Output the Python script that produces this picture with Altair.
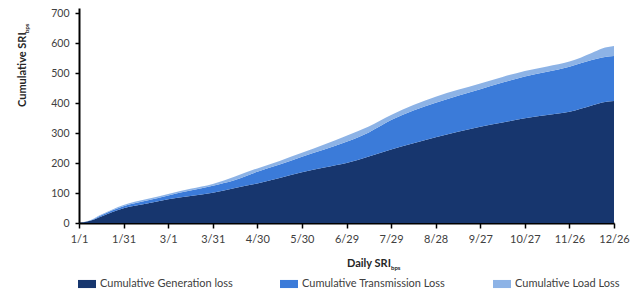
import json
from datetime import date

import altair as alt
import pandas as pd

# ---------------- data ----------------
DATES = ["1/1", "1/9", "1/16", "1/31", "2/15", "3/1", "3/16", "3/31", "4/15",
         "4/30", "5/15", "5/30", "6/14", "6/29", "7/14", "7/29", "8/13", "8/28",
         "9/12", "9/27", "10/12", "10/27", "11/11", "11/26", "12/11", "12/18", "12/26"]
GENERATION = [0, 8, 22, 49, 64, 79, 90, 101, 117, 132, 150, 169, 185, 200, 222,
              245, 266, 286, 304, 321, 335, 349, 360, 371, 392, 402, 407]
TRANSMISSION = [0, 1, 4, 7, 10, 13, 18, 23, 26, 39, 45, 52, 60, 71, 80, 98, 109,
                115, 120, 125, 133, 139, 144, 150, 151, 150, 150]
LOAD = [0, 1, 2, 4, 5, 5, 6, 6, 12, 11, 12, 13, 17, 20, 20, 17, 18, 20, 20, 19,
        19, 19, 18, 17, 24, 30, 33]

SERIES = ["Cumulative Generation loss", "Cumulative Transmission Loss", "Cumulative Load Loss"]
COLORS = ["#17366e", "#3b7bd9", "#8db3e6"]

TICK_LABELS = ["1/1", "1/31", "3/1", "3/31", "4/30", "5/30", "6/29", "7/29",
               "8/28", "9/27", "10/27", "11/26", "12/26"]
Y_TICKS = [0, 100, 200, 300, 400, 500, 600, 700]

Y_TITLE = "Cumulative SRI"
X_TITLE = "Daily SRI"
SUBSCRIPT = "bps"

YEAR = 2016
FONT = "Lato"
TEXT_COLOR = "#404040"
TITLE_COLOR = "#262626"


def day_index(md):
    m, d = (int(v) for v in md.split("/"))
    return (date(YEAR, m, d) - date(YEAR, 1, 1)).days


rows = []
for i, md in enumerate(DATES):
    for k, (name, vals) in enumerate(zip(SERIES, [GENERATION, TRANSMISSION, LOAD])):
        rows.append({"day": day_index(md), "series": name, "value": vals[i], "order": k})
df = pd.DataFrame(rows)

tick_days = [day_index(t) for t in TICK_LABELS]
label_expr = (json.dumps(TICK_LABELS).replace('"', "'")
              + "[indexof(" + json.dumps(tick_days) + ", datum.value)]")

PLOT_W, PLOT_H = 535, 215
Y_MAX = PLOT_H / 0.3  # 0.3 px per unit

area = alt.Chart(df).mark_area(interpolate="monotone", opacity=1).encode(
    x=alt.X("day:Q",
            scale=alt.Scale(domain=[0, max(tick_days)], nice=False, zero=False),
            axis=alt.Axis(values=tick_days, labelExpr=label_expr, title=None,
                          tickSize=5, labelPadding=5, labelFlush=False,
                          labelOverlap=False, labelFontSize=11)),
    y=alt.Y("value:Q", stack="zero",
            scale=alt.Scale(domain=[0, Y_MAX], nice=False),
            axis=alt.Axis(values=Y_TICKS, title=None, tickSize=4, labelPadding=6,
                          labelFlush=False)),
    color=alt.Color("series:N",
                    scale=alt.Scale(domain=SERIES, range=COLORS),
                    legend=alt.Legend(orient="none", legendX=-1, legendY=267,
                                      direction="horizontal", title=None,
                                      symbolType="M-1,-0.45H1V0.45H-1Z",
                                      symbolSize=324, symbolStrokeWidth=0,
                                      symbolOpacity=1, labelOffset=4,
                                      columnPadding=47, labelFont=FONT,
                                      labelFontSize=11, labelColor=TEXT_COLOR,
                                      labelLimit=300)),
    order=alt.Order("order:Q", sort="ascending"),
)

y_title = alt.Chart(pd.DataFrame({"t": [Y_TITLE]})).mark_text(
    angle=270, align="left", baseline="middle", fontWeight="bold",
    font=FONT, fontSize=11, color=TITLE_COLOR
).encode(text="t:N", x=alt.value(-56), y=alt.value(99))

y_sub = alt.Chart(pd.DataFrame({"t": [SUBSCRIPT]})).mark_text(
    angle=270, align="left", baseline="middle", fontWeight="bold",
    font=FONT, fontSize=6, color=TITLE_COLOR
).encode(text="t:N", x=alt.value(-52), y=alt.value(25))

x_title = alt.Chart(pd.DataFrame({"t": [X_TITLE]})).mark_text(
    align="left", baseline="middle", fontWeight="bold",
    font=FONT, fontSize=11, color=TITLE_COLOR
).encode(text="t:N", x=alt.value(268), y=alt.value(256))

x_sub = alt.Chart(pd.DataFrame({"t": [SUBSCRIPT]})).mark_text(
    align="left", baseline="middle", fontWeight="bold",
    font=FONT, fontSize=6, color=TITLE_COLOR
).encode(text="t:N", x=alt.value(312), y=alt.value(260))

chart = alt.layer(area, y_title, y_sub, x_title, x_sub).properties(
    width=PLOT_W, height=PLOT_H,
    autosize=alt.AutoSizeParams(type="none"),
    padding={"left": 71, "top": 0, "right": 17, "bottom": 69},
    background="white",
).configure_view(stroke=None).configure_axis(
    grid=False, domainColor="black", domainWidth=2, tickColor="black",
    tickWidth=1.5, labelFont=FONT, labelFontSize=10.5, labelColor=TEXT_COLOR,
)

chart.save("out.html", embed_options={"renderer": "svg", "actions": False})
